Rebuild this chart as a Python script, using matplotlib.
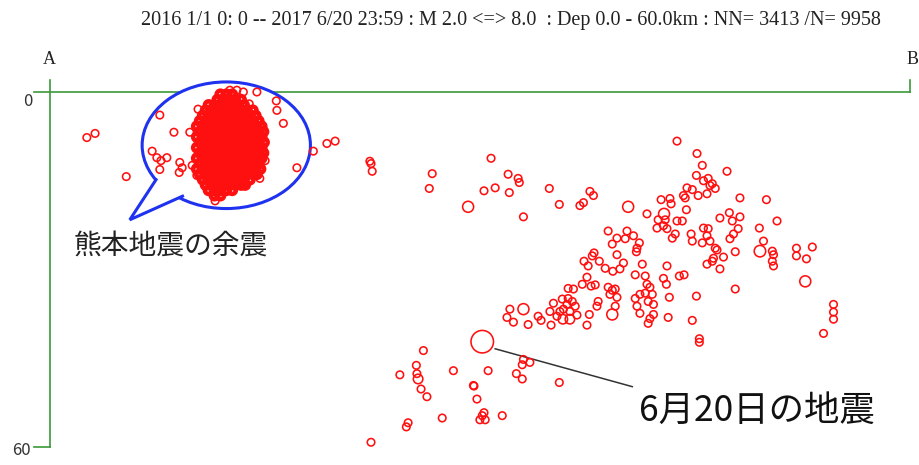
import matplotlib.pyplot as plt
from matplotlib.patches import Ellipse, Polygon
import numpy as np

plt.rcParams['font.family'] = ['Noto Sans CJK JP', 'DejaVu Sans']

# ---- data (distance along A-B in km, depth in km) ----
title = '2016 1/1 0: 0 -- 2017 6/20 23:59 : M 2.0 <=> 8.0  : Dep 0.0 - 60.0km : NN= 3413 /N= 9958'
depth_ticks = [0, 60]
label_aftershock = '熊本地震の余震'
label_june20 = '6月20日の地震'

# Kumamoto aftershock cluster, one row of events per depth slice
cluster_row_depth = [0.4, 1.3, 2.2, 3.1, 4.0, 4.9, 5.8, 6.7, 7.6, 8.5,
                     9.4, 10.3, 11.2, 12.1, 13.0, 13.9, 14.8, 15.7, 16.6, 17.5]
cluster_row_dist = [
    [29.3, 30.3, 31.3],
    [28.8, 29.8, 30.8, 31.8, 32.8],
    [27.3, 28.3, 29.3, 30.3, 31.3, 32.3, 33.3],
    [26.8, 27.8, 28.8, 29.8, 30.8, 31.8, 32.8, 33.8, 34.8],
    [26.3, 27.3, 28.3, 29.3, 30.3, 31.3, 32.3, 33.3, 34.3, 35.3],
    [25.8, 26.8, 27.8, 28.8, 29.8, 30.8, 31.8, 32.8, 33.8, 34.8, 35.8],
    [25.3, 26.3, 27.3, 28.3, 29.3, 30.3, 31.3, 32.3, 33.3, 34.3, 35.3, 36.3],
    [25.8, 26.8, 27.8, 28.8, 29.8, 30.8, 31.8, 32.8, 33.8, 34.8, 35.8, 36.6],
    [25.3, 26.3, 27.3, 28.3, 29.3, 30.3, 31.3, 32.3, 33.3, 34.3, 35.3, 36.3],
    [25.8, 26.8, 27.8, 28.8, 29.8, 30.8, 31.8, 32.8, 33.8, 34.8, 35.8, 36.7],
    [25.3, 26.3, 27.3, 28.3, 29.3, 30.3, 31.3, 32.3, 33.3, 34.3, 35.3, 36.3],
    [25.8, 26.8, 27.8, 28.8, 29.8, 30.8, 31.8, 32.8, 33.8, 34.8, 35.8, 36.6],
    [25.3, 26.3, 27.3, 28.3, 29.3, 30.3, 31.3, 32.3, 33.3, 34.3, 35.3, 36.3],
    [25.8, 26.8, 27.8, 28.8, 29.8, 30.8, 31.8, 32.8, 33.8, 34.8, 35.8],
    [25.3, 26.3, 27.3, 28.3, 29.3, 30.3, 31.3, 32.3, 33.3, 34.3, 35.3, 36.1],
    [25.8, 26.8, 27.8, 28.8, 29.8, 30.8, 31.8, 32.8, 33.8, 34.8, 35.5],
    [26.3, 27.3, 28.3, 29.3, 30.3, 31.3, 32.3, 33.3, 34.3],
    [26.8, 27.8, 28.8, 29.8, 30.8, 31.8, 32.8, 33.5],
    [27.3, 28.3, 29.3, 30.3, 31.3],
    [28.3, 29.3],
]

# scattered events around the cluster
bub_dist = [6.6, 8.0, 13.3, 19.0, 21.4, 17.7, 18.5, 19.2, 20.2, 19.0,
            22.4, 22.8, 22.3, 25.5, 27.2, 28.1, 33.2, 35.5, 34.2, 38.8,
            38.9, 40.0, 45.1, 47.4, 48.8, 42.3, 24.1, 24.5, 25.3, 30.9,
            32.1, 28.4, 36.0, 36.9]
bub_depth = [7.7, 7.0, 14.3, 3.9, 6.8, 10.0, 11.1, 11.6, 11.1, 13.1,
             11.9, 12.8, 13.6, 2.9, 2.4, 2.7, 0.0, 0.0, 2.0, 1.5,
             3.1, 5.3, 10.0, 8.7, 8.3, 12.8, 6.8, 12.4, 14.1, -0.3,
             -0.3, 18.4, 14.6, 11.6]

# shallow events in the middle of the section
mid_dist = [54.7, 54.9, 55.1, 65.3, 64.8, 75.3, 78.2, 79.9, 80.1, 74.1,
            76.0, 78.4, 80.8, 85.2, 86.9, 90.4, 91.0, 92.1, 92.7]
mid_depth = [11.7, 12.1, 13.4, 13.8, 16.3, 11.2, 13.9, 14.6, 15.3, 16.7,
             16.2, 17.0, 21.1, 16.3, 19.0, 19.2, 18.7, 16.8, 17.5]

# eastern group
east_dist = [106.9, 110.3, 111.2, 115.4, 110.2, 111.4, 112.2, 112.9, 113.4, 112.5,
             108.6, 109.5, 108.0, 108.3, 110.5, 112.0, 117.6, 122.1, 104.2, 105.7,
             105.9, 101.8, 108.5, 103.7, 104.9, 104.6, 103.5, 105.2, 106.9, 107.8,
             106.1, 106.6, 109.3, 109.5, 111.4, 112.2, 112.0, 112.5, 111.2, 114.2,
             115.8, 116.3, 117.6, 117.3, 116.5, 115.9, 113.4, 113.7, 116.8, 123.9,
             120.9, 121.6, 123.1, 123.3, 123.1, 123.3, 127.2, 127.2, 128.9, 129.9,
             133.5, 133.5, 133.5, 131.8, 116.8, 112.0, 112.9, 114.2, 113.1, 114.8,
             110.7, 110.7, 109.5, 110.2, 105.6, 105.4, 107.3, 108.1, 105.2, 104.6,
             105.1, 101.0, 101.5, 101.8, 102.3, 101.5, 102.7, 102.0, 102.9, 102.9,
             102.3, 102.0, 100.6, 100.1, 99.8, 100.6, 99.8]
east_depth = [8.3, 10.4, 12.4, 13.4, 14.1, 15.0, 14.6, 15.5, 16.3, 15.8,
              16.2, 16.5, 17.5, 17.9, 17.5, 17.2, 17.9, 18.2, 18.2, 18.0,
              18.9, 20.6, 19.9, 21.6, 21.6, 22.6, 23.0, 23.1, 21.8, 21.8,
              24.7, 24.0, 24.0, 25.2, 23.0, 23.1, 24.3, 25.2, 25.5, 21.3,
              20.4, 21.8, 21.1, 23.1, 24.0, 24.8, 26.4, 26.7, 27.0, 21.8,
              23.0, 25.2, 26.9, 27.5, 28.6, 29.4, 26.4, 27.7, 28.2, 26.2,
              35.9, 37.2, 38.4, 40.8, 33.3, 29.1, 28.6, 29.9, 28.1, 27.9,
              41.7, 42.3, 38.6, 34.5, 34.7, 38.1, 31.1, 30.9, 29.4, 31.5,
              32.5, 29.1, 31.1, 32.5, 33.0, 34.0, 34.2, 35.4, 35.9, 37.6,
              38.3, 39.1, 37.4, 36.2, 34.9, 34.2, 30.9]

# central dense group
core_dist = [95.2, 96.7, 98.4, 99.5, 98.1, 95.9, 100.5, 100.1, 100.0, 92.8,
             92.5, 91.1, 91.8, 93.7, 94.7, 96.7, 97.8, 96.0, 97.2, 91.6,
             90.8, 92.3, 93.0, 88.4, 89.3, 95.2, 95.9, 96.4, 95.5, 96.7,
             96.4, 93.5, 93.3, 88.2, 87.4, 89.1, 87.6, 88.7, 89.6, 87.0,
             88.4, 85.9, 85.3, 86.5, 89.9, 92.0, 91.6, 85.5, 83.3, 83.8,
             81.6, 78.5, 78.0, 79.1]
core_depth = [23.5, 24.7, 23.5, 24.3, 24.8, 25.7, 25.5, 26.4, 27.0, 27.2,
              27.7, 28.6, 29.4, 28.6, 29.8, 27.5, 28.9, 30.3, 29.9, 31.3,
              32.5, 32.8, 32.6, 33.2, 33.3, 33.0, 33.5, 33.3, 34.2, 34.7,
              36.2, 35.4, 36.2, 35.9, 35.0, 35.4, 36.7, 37.1, 36.2, 37.1,
              34.9, 35.7, 37.1, 37.9, 37.7, 37.6, 39.4, 39.4, 37.9, 38.6,
              39.3, 36.7, 38.1, 38.9]

# deep western group
deep_dist = [63.8, 62.6, 62.7, 59.8, 63.4, 64.4, 68.9, 74.8, 72.3, 72.4,
             72.9, 80.8, 80.6, 81.9, 79.6, 80.6, 86.9, 67.0, 73.8, 74.3,
             73.4, 74.1, 77.2, 61.2, 60.9, 54.9]
deep_depth = [43.7, 46.2, 47.6, 47.8, 50.2, 51.5, 47.1, 47.1, 49.6, 49.7,
              51.9, 45.2, 46.1, 45.7, 47.6, 48.5, 49.1, 55.1, 54.7, 55.4,
              55.4, 54.2, 54.7, 55.9, 56.6, 59.2]

# larger events (magnitude drives circle size); last one is the June 20 quake
big_dist = [71.4, 98.6, 104.7, 121.0, 128.7, 95.9, 80.8, 62.9, 87.5, 88.7, 73.8]
big_depth = [19.4, 19.4, 20.6, 26.9, 32.0, 37.6, 36.7, 48.5, 38.4, 38.4, 42.2]
big_mag = [2.7, 2.7, 2.7, 2.8, 2.7, 2.7, 2.7, 2.4, 2.4, 2.4, 5.0]

# ---- figure ----
W, H = 919, 465
fig = plt.figure(figsize=(W / 100, H / 100), dpi=100)
ax = fig.add_axes([48 / W, 1 - 447 / H, 862 / W, 355 / H])
x_max = 146.5
ax.set_xlim(0, x_max)
ax.set_ylim(60, 0)
ax.axis('off')

def fx(px):
    return px / W

def fy(py):
    return 1 - py / H

red = '#ff1010'
green = '#3a9a3a'

def ring_size(mag):
    d_px = 7.5 + 5.0 * (np.asarray(mag) - 2.0)
    return (d_px * 0.72) ** 2

# section frame
ax.plot([-2.3, x_max], [0, 0], color=green, lw=1.2, clip_on=False, zorder=1)
ax.plot([0.3, 0.3], [-2.0, 60], color=green, lw=1.2, clip_on=False, zorder=1)
ax.plot([-2.3, 0.3], [60, 60], color=green, lw=1.2, clip_on=False, zorder=1)
ax.plot([x_max, x_max], [-2.0, 0], color=green, lw=1.2, clip_on=False, zorder=1)

# speech bubble
bubble = Ellipse((30.3, 9.0), 28.6, 21.4, facecolor='white', edgecolor='#1e32f0',
                 lw=2.2, zorder=1.5, clip_on=False)
ax.add_patch(bubble)
tail = Polygon([[18.5, 14.6], [13.9, 21.6], [23.1, 17.5]], closed=False,
               facecolor='white', edgecolor='#1e32f0', lw=2.2, zorder=1.6,
               clip_on=False, joinstyle='miter')
ax.add_patch(tail)

# events
cl_x = [d for row in cluster_row_dist for d in row]
cl_z = [z for z, row in zip(cluster_row_depth, cluster_row_dist) for _ in row]
ax.scatter(cl_x, cl_z, s=ring_size(2.0), facecolors='none', edgecolors=red,
           linewidths=3.2, clip_on=False, zorder=3)

for xs, zs in [(bub_dist, bub_depth), (mid_dist, mid_depth), (east_dist, east_depth),
               (core_dist, core_depth), (deep_dist, deep_depth)]:
    ax.scatter(xs, zs, s=ring_size(2.0), facecolors='none', edgecolors=red,
               linewidths=1.15, clip_on=False, zorder=3)

ax.scatter(big_dist, big_depth, s=ring_size(big_mag), facecolors='none',
           edgecolors=red, linewidths=1.15, clip_on=False, zorder=3)

# callout to the June 20 event
ax.plot([76.0, 99.3], [43.4, 49.8], color='#333333', lw=1.1, zorder=2)
ax.text(100.5, 53.8, label_june20, fontsize=25.5, color='#111111',
        ha='left', va='center')
ax.text(4.4, 26.0, label_aftershock, fontsize=20, color='#222222',
        ha='left', va='center')

# texts
fig.text(fx(511), fy(20), title, family='Liberation Serif', fontsize=14.5,
         ha='center', va='center', color='#222222')
fig.text(fx(49), fy(60), 'A', family='Liberation Serif', fontsize=13,
         ha='center', va='center', color='#222222')
fig.text(fx(913), fy(60), 'B', family='Liberation Serif', fontsize=13,
         ha='center', va='center', color='#222222')
fig.text(fx(28), fy(101), str(depth_ticks[0]), fontsize=12, ha='center',
         va='center', color='#333333')
fig.text(fx(21), fy(450), str(depth_ticks[1]), fontsize=12, ha='center',
         va='center', color='#333333')

fig.savefig('out.png', dpi=100)
